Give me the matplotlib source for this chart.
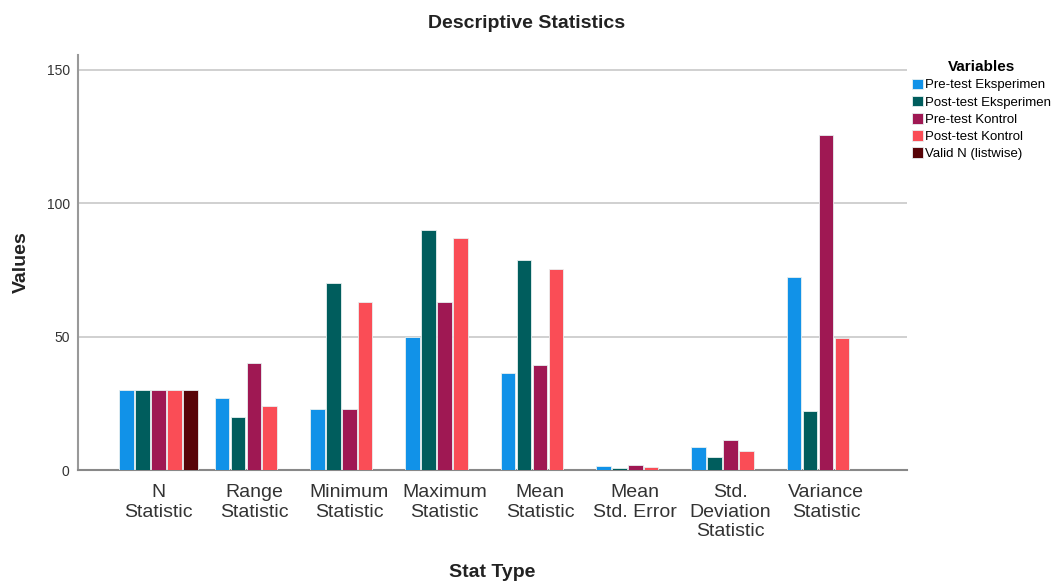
import numpy as np
import matplotlib.pyplot as plt

plt.rcParams['font.family'] = ['Liberation Sans', 'DejaVu Sans']

categories = ['N\nStatistic', 'Range\nStatistic', 'Minimum\nStatistic', 'Maximum\nStatistic',
              'Mean\nStatistic', 'Mean\nStd. Error', 'Std.\nDeviation\nStatistic', 'Variance\nStatistic']
series = ['Pre-test Eksperimen', 'Post-test Eksperimen', 'Pre-test Kontrol',
          'Post-test Kontrol', 'Valid N (listwise)']

pre_eks = [30, 27, 23, 50, 36.2, 1.4, 8.5, 72.4]
post_eks = [30, 20, 70, 90, 78.9, 0.7, 4.7, 22.0]
pre_kon = [30, 40, 23, 63, 39.3, 1.9, 11.2, 125.8]
post_kon = [30, 24, 63, 87, 75.2, 1.1, 7.0, 49.6]
valid_n = [30, np.nan, np.nan, np.nan, np.nan, np.nan, np.nan, np.nan]

colors = ['#1192e8', '#005d5d', '#9f1853', '#fa4d56', '#570408']

fig = plt.figure(figsize=(10.54, 5.81), dpi=100)
ax = fig.add_axes([0.074, 0.191, 0.7865, 0.7143])

x = np.arange(len(categories))
w = 0.167
data = [pre_eks, post_eks, pre_kon, post_kon, valid_n]
for i, (vals, c, lab) in enumerate(zip(data, colors, series)):
    ax.bar(x + (i - 2) * w, vals, width=w * 0.92, color=c, label=lab,
           edgecolor='#e8f0f0', linewidth=0.6, zorder=3)

ax.set_xlim(-0.845, 7.85)
ax.set_ylim(0, 155.6)
ax.set_yticks([0, 50, 100, 150])
ax.yaxis.grid(True, color='#c8c8c8', linewidth=1.2, zorder=0)
ax.set_xticks(x)
ax.set_xticklabels(categories, fontsize=14, color='#333333', linespacing=1.2)
ax.tick_params(axis='x', length=0, pad=10)
ax.tick_params(axis='y', length=0, labelsize=10, colors='#333333', pad=6)

for s in ['top', 'right']:
    ax.spines[s].set_visible(False)
ax.spines['left'].set_color('#999999')
ax.spines['left'].set_linewidth(1.5)
ax.spines['bottom'].set_color('#888888')
ax.spines['bottom'].set_linewidth(1.5)

ax.set_xlabel('Stat Type', fontsize=14, fontweight='bold', color='#222222', labelpad=17)
ax.set_ylabel('Values', fontsize=14, fontweight='bold', color='#222222', labelpad=12)
fig.suptitle('Descriptive Statistics', x=0.5, y=0.975, fontsize=14, fontweight='bold', color='#222222')

leg = ax.legend(loc='upper left', bbox_to_anchor=(1.0, 1.0), frameon=False, fontsize=9.5,
                title='Variables', handlelength=0.85, handleheight=0.85, handletextpad=0.15,
                labelspacing=0.33, borderaxespad=0.1, borderpad=0.3)
leg.get_title().set_fontweight('bold')
leg.get_title().set_fontsize(11)

fig.savefig('out.png', dpi=100)
